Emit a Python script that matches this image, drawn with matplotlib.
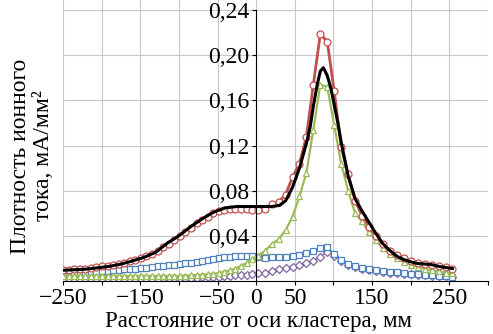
"""Ion current density profile across the cluster axis"""

import numpy as np
import matplotlib
matplotlib.use('Agg')
import matplotlib.pyplot as plt

plt.rcParams['font.family'] = ['Liberation Serif', 'DejaVu Serif']

# Measurement positions, mm (denser on the left side)
x_left = np.linspace(-250, -5.2, 35)
x_right = np.linspace(2, 254, 29)
x_pos = np.concatenate([x_left, x_right])

red_vals = [0.010, 0.010, 0.0105, 0.011, 0.011, 0.0115, 0.012, 0.013, 0.0135, 0.014,
            0.015, 0.016, 0.0175, 0.019, 0.0205, 0.022, 0.024, 0.027, 0.030, 0.033,
            0.036, 0.040, 0.043, 0.047, 0.051, 0.054, 0.057, 0.060, 0.062, 0.063,
            0.064, 0.064, 0.064, 0.064, 0.063,
            0.0625, 0.064, 0.068, 0.070, 0.0765, 0.092, 0.104, 0.128, 0.174, 0.219,
            0.212, 0.168, 0.119, 0.095, 0.071, 0.058, 0.048, 0.040, 0.033, 0.027,
            0.023, 0.020, 0.018, 0.016, 0.015, 0.014, 0.013, 0.012, 0.011]
green_vals = [0.0048, 0.0048, 0.0047, 0.0047, 0.0046, 0.0046, 0.0046, 0.0045, 0.0045, 0.0045,
              0.0045, 0.0045, 0.0045, 0.0045, 0.0045, 0.0045, 0.0045, 0.0045, 0.0045, 0.0045,
              0.0045, 0.0045, 0.0047, 0.005, 0.0053, 0.0056, 0.006, 0.0064, 0.007, 0.0082,
              0.0095, 0.011, 0.0135, 0.016, 0.0195,
              0.0225, 0.0265, 0.0325, 0.037, 0.045, 0.057, 0.075, 0.096, 0.134, 0.174,
              0.172, 0.138, 0.104, 0.080, 0.060, 0.053, 0.043, 0.036, 0.029, 0.024,
              0.020, 0.017, 0.0145, 0.0125, 0.011, 0.0095, 0.0085, 0.0075, 0.007]
blue_vals = [0.0065, 0.0067, 0.007, 0.0072, 0.0075, 0.0078, 0.0082, 0.0086, 0.009, 0.0094,
             0.0098, 0.0102, 0.0106, 0.011, 0.0114, 0.0119, 0.0124, 0.0129, 0.0134, 0.0139,
             0.0145, 0.015, 0.0156, 0.0162, 0.0168, 0.0178, 0.0188, 0.0198, 0.0205, 0.021,
             0.0215, 0.022, 0.0222, 0.0223, 0.0222,
             0.021, 0.0208, 0.021, 0.0213, 0.0214, 0.022, 0.023, 0.0245, 0.0265, 0.029,
             0.030, 0.024, 0.019, 0.0155, 0.0132, 0.0118, 0.0108, 0.0098, 0.009, 0.0083,
             0.0077, 0.0071, 0.0066, 0.0061, 0.0056, 0.0051, 0.0046, 0.0042, 0.0039]
purple_vals = [0.002, 0.002, 0.002, 0.002, 0.002, 0.002, 0.002, 0.002, 0.002, 0.002,
               0.002, 0.002, 0.002, 0.0021, 0.0021, 0.0021, 0.0022, 0.0022, 0.0023, 0.0023,
               0.0024, 0.0025, 0.0027, 0.0029, 0.003, 0.0032, 0.0034, 0.0036, 0.0039, 0.0042,
               0.0045, 0.0049, 0.0053, 0.0057, 0.0062,
               0.0068, 0.0075, 0.0088, 0.011, 0.0115, 0.0128, 0.014, 0.016, 0.018, 0.0215,
               0.0258, 0.0225, 0.018, 0.0145, 0.012, 0.0105, 0.0095, 0.0087, 0.008, 0.0074,
               0.0069, 0.0064, 0.006, 0.0055, 0.0051, 0.0047, 0.0043, 0.004, 0.0037]

# Smooth (black) curve, read at its own positions
black_x = [-250, -235, -220, -205, -190, -175, -160, -145, -130, -115, -100, -85, -70,
           -55, -40, -25, -10, 0, 10, 20, 30, 38, 47, 56, 65, 70, 74, 79, 83, 87, 92,
           97, 101, 106, 110, 119, 128, 137, 146, 155, 164, 173, 182, 191, 200, 209,
           218, 227, 236, 245, 254]
black_vals = [0.0095, 0.010, 0.0105, 0.0117, 0.013, 0.015, 0.0178, 0.021, 0.0255, 0.0335,
              0.040, 0.048, 0.055, 0.061, 0.0648, 0.066, 0.066, 0.066, 0.066, 0.066,
              0.067, 0.071, 0.083, 0.100, 0.122, 0.137, 0.155, 0.174, 0.186, 0.189, 0.182,
              0.170, 0.156, 0.139, 0.123, 0.093, 0.073, 0.062, 0.052, 0.042, 0.033,
              0.027, 0.022, 0.019, 0.017, 0.0155, 0.015, 0.0145, 0.013, 0.012, 0.011]

x_ticks = list(range(-250, 301, 50))
x_labels = ['\u2212250', '', '\u2212150', '', '\u221250', '0', '50', '', '150', '', '250', '']
y_ticks = [0.04, 0.08, 0.12, 0.16, 0.20, 0.24]
y_labels = ['0,04', '0,08', '0,12', '0,16', '0,20', '0,24']

fig = plt.figure(figsize=(4.93, 3.34), dpi=100)
ax = fig.add_axes([63 / 493, 53 / 334, 425 / 493, 1 - 53 / 334])

ax.plot(x_pos, purple_vals, color='#8064A2', lw=1.0, marker='D', ms=3.6,
        mfc='white', mec='#8064A2', mew=0.9)
ax.plot(x_pos, blue_vals, color='#4F81BD', lw=1.0, marker='s', ms=4.0,
        mfc='white', mec='#4F81BD', mew=0.9)
ax.plot(x_pos, green_vals, color='#9BBB59', lw=1.6, marker='^', ms=4.5,
        mfc='white', mec='#9BBB59', mew=0.9)
ax.plot(x_pos, red_vals, color='#C0504D', lw=2.0, marker='o', ms=5.0,
        mfc='white', mec='#C0504D', mew=0.9)
ax.plot(black_x, black_vals, color='black', lw=2.2)

ax.set_xlim(-250, 300); ax.set_ylim(0, 0.249)
ax.set_xticks(x_ticks); ax.set_xticklabels(x_labels)
ax.set_yticks(y_ticks); ax.set_yticklabels(y_labels)
ax.grid(True, color='#c8c8c8', lw=0.8); ax.set_axisbelow(True)
ax.yaxis.get_gridlines()[-1].set_visible(False)

for side in ['top', 'right']:
    ax.spines[side].set_visible(False)
ax.spines['left'].set_position(('data', 0)); ax.spines['left'].set_bounds(0, 0.24)
ax.spines['bottom'].set_position(('data', 0))
ax.tick_params(axis='both', direction='out', length=3, width=0.8, labelsize=17, pad=2)

fig.text(258 / 493, 1 - 322 / 334, 'Расстояние от оси кластера, мм',
         ha='center', va='center', fontsize=16.5)
fig.text(32 / 493, 1 - 156 / 334, 'Плотность ионного\nтока, мА/мм²',
         ha='center', va='center', rotation=90, fontsize=17, linespacing=1.1)

fig.savefig('out.png', dpi=100)
